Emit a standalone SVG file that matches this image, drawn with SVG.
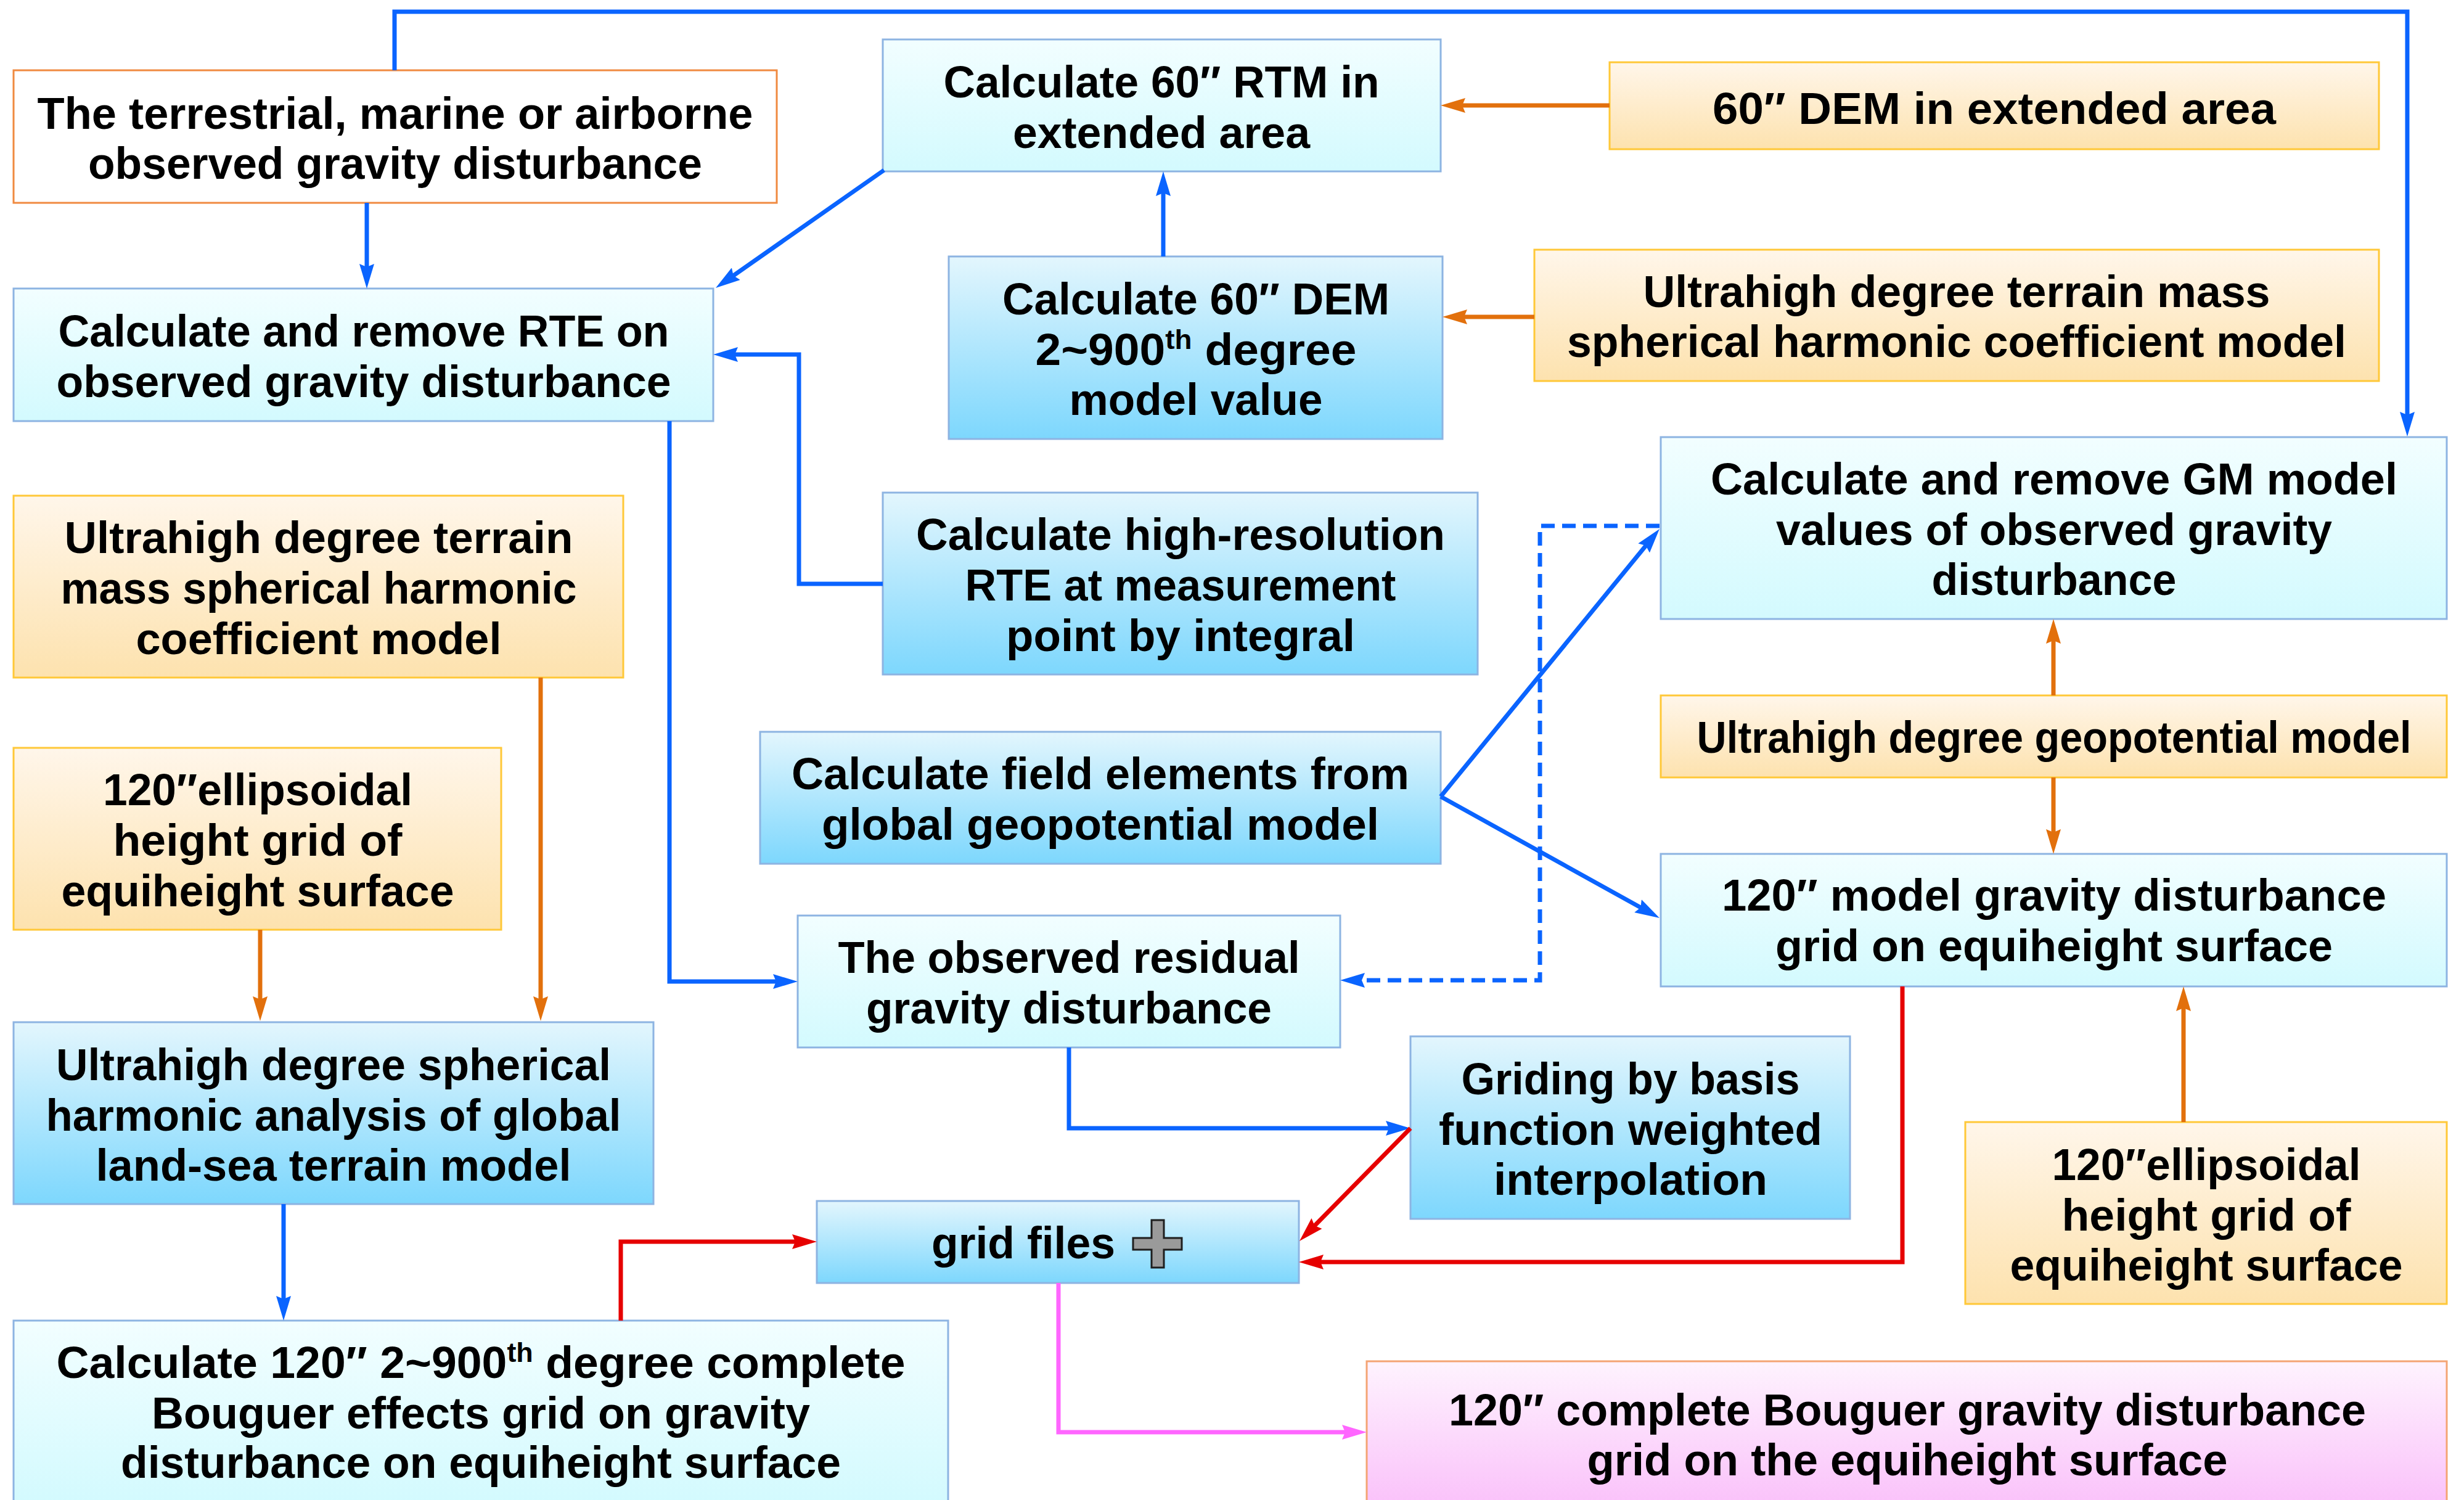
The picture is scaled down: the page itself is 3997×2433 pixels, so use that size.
<svg xmlns="http://www.w3.org/2000/svg" width="3997" height="2433" viewBox="0 0 3997 2433">
  <defs>
    <linearGradient id="gCyan" x1="0" y1="0" x2="0" y2="1">
      <stop offset="0" stop-color="#F2FEFF"/>
      <stop offset="1" stop-color="#D3FAFE"/>
    </linearGradient>
    <linearGradient id="gBlue" x1="0" y1="0" x2="0" y2="1">
      <stop offset="0" stop-color="#E3F6FD"/>
      <stop offset="1" stop-color="#7DD7FD"/>
    </linearGradient>
    <linearGradient id="gOrange" x1="0" y1="0" x2="0" y2="1">
      <stop offset="0" stop-color="#FFF6EA"/>
      <stop offset="1" stop-color="#FDE2AE"/>
    </linearGradient>
    <linearGradient id="gPink" x1="0" y1="0" x2="0" y2="1">
      <stop offset="0" stop-color="#FEF3FE"/>
      <stop offset="1" stop-color="#FAC1FA"/>
    </linearGradient>
    <marker id="aBlue" viewBox="0 -12 40 24" markerWidth="40" markerHeight="24" refX="20" refY="0" orient="auto" markerUnits="userSpaceOnUse">
      <path d="M0,-12 L40,0 L0,12 L5,0 z" fill="#0A64FF"/>
    </marker>
    <marker id="aOrange" viewBox="0 -12 40 24" markerWidth="40" markerHeight="24" refX="20" refY="0" orient="auto" markerUnits="userSpaceOnUse">
      <path d="M0,-12 L40,0 L0,12 L5,0 z" fill="#E2700C"/>
    </marker>
    <marker id="aRed" viewBox="0 -12 40 24" markerWidth="40" markerHeight="24" refX="20" refY="0" orient="auto" markerUnits="userSpaceOnUse">
      <path d="M0,-12 L40,0 L0,12 L5,0 z" fill="#E60000"/>
    </marker>
    <marker id="aPink" viewBox="0 -12 40 24" markerWidth="40" markerHeight="24" refX="20" refY="0" orient="auto" markerUnits="userSpaceOnUse">
      <path d="M0,-12 L40,0 L0,12 L5,0 z" fill="#FF66FF"/>
    </marker>
  </defs>
  <style>
    .t { font-family: "Liberation Sans", Arial, sans-serif; font-weight: 700; font-size: 72px; fill: #000; text-anchor: middle; }
    .s { text-anchor: start; }
    .sup { font-size: 44px; }
    .cy { fill: url(#gCyan); stroke: #8DB4E2; stroke-width: 3; }
    .bl { fill: url(#gBlue); stroke: #8DB4E2; stroke-width: 3; }
    .or { fill: url(#gOrange); stroke: #FFC838; stroke-width: 3; }
    .wh { fill: #FFFFFF; stroke: #F08A40; stroke-width: 3; }
    .pk { fill: url(#gPink); stroke: #F4A474; stroke-width: 3; }
    .cb { fill: none; stroke: #0A64FF; stroke-width: 7; marker-end: url(#aBlue); }
    .cd { fill: none; stroke: #0A64FF; stroke-width: 7; stroke-dasharray: 22 12; marker-end: url(#aBlue); }
    .co { fill: none; stroke: #E2700C; stroke-width: 7; marker-end: url(#aOrange); }
    .cr { fill: none; stroke: #E60000; stroke-width: 7; marker-end: url(#aRed); }
    .cp { fill: none; stroke: #FF66FF; stroke-width: 7; marker-end: url(#aPink); }
  </style>

  <rect width="3997" height="2433" fill="#FFFFFF"/>

  <!-- nodes -->
  <g id="observed-gravity">
    <rect class="wh" x="22" y="114" width="1238" height="215"/>
    <text class="t" x="641" y="209" textLength="1161" lengthAdjust="spacingAndGlyphs">The terrestrial, marine or airborne</text>
    <text class="t" x="641" y="290" textLength="996" lengthAdjust="spacingAndGlyphs">observed gravity disturbance</text>
  </g>

  <g id="remove-rte">
    <rect class="cy" x="22" y="468" width="1135" height="215"/>
    <text class="t" x="590" y="562" textLength="991" lengthAdjust="spacingAndGlyphs">Calculate and remove RTE on</text>
    <text class="t" x="590" y="644" textLength="997" lengthAdjust="spacingAndGlyphs">observed gravity disturbance</text>
  </g>

  <g id="rtm-extended">
    <rect class="cy" x="1432" y="64" width="905" height="214"/>
    <text class="t" x="1884" y="158" textLength="707" lengthAdjust="spacingAndGlyphs">Calculate 60″ RTM in</text>
    <text class="t" x="1884" y="240" textLength="482" lengthAdjust="spacingAndGlyphs">extended area</text>
  </g>

  <g id="dem-extended">
    <rect class="or" x="2611" y="101" width="1248" height="141"/>
    <text class="t" x="3235" y="201" textLength="914" lengthAdjust="spacingAndGlyphs">60″ DEM in extended area</text>
  </g>

  <g id="dem-model-value">
    <rect class="bl" x="1539" y="416" width="801" height="296"/>
    <text class="t" x="1940" y="510" textLength="628" lengthAdjust="spacingAndGlyphs">Calculate 60″ DEM</text>
    <text class="t" x="1940" y="592" textLength="521" lengthAdjust="spacingAndGlyphs">2~900<tspan class="sup" dy="-26">th</tspan><tspan dy="26"> degree</tspan></text>
    <text class="t" x="1940" y="673" textLength="411" lengthAdjust="spacingAndGlyphs">model value</text>
  </g>

  <g id="terrain-coeff-top">
    <rect class="or" x="2489" y="405" width="1370" height="213"/>
    <text class="t" x="3174" y="498" textLength="1017" lengthAdjust="spacingAndGlyphs">Ultrahigh degree terrain mass</text>
    <text class="t" x="3174" y="579" textLength="1264" lengthAdjust="spacingAndGlyphs">spherical harmonic coefficient model</text>
  </g>

  <g id="remove-gm">
    <rect class="cy" x="2694" y="709" width="1275" height="295"/>
    <text class="t" x="3332" y="802" textLength="1114" lengthAdjust="spacingAndGlyphs">Calculate and remove GM model</text>
    <text class="t" x="3332" y="884" textLength="902" lengthAdjust="spacingAndGlyphs">values of observed gravity</text>
    <text class="t" x="3332" y="965" textLength="397" lengthAdjust="spacingAndGlyphs">disturbance</text>
  </g>

  <g id="high-res-rte">
    <rect class="bl" x="1432" y="799" width="965" height="295"/>
    <text class="t" x="1915" y="892" textLength="858" lengthAdjust="spacingAndGlyphs">Calculate high-resolution</text>
    <text class="t" x="1915" y="974" textLength="699" lengthAdjust="spacingAndGlyphs">RTE at measurement</text>
    <text class="t" x="1915" y="1056" textLength="566" lengthAdjust="spacingAndGlyphs">point by integral</text>
  </g>

  <g id="terrain-coeff-left">
    <rect class="or" x="22" y="804" width="989" height="295"/>
    <text class="t" x="517" y="897" textLength="825" lengthAdjust="spacingAndGlyphs">Ultrahigh degree terrain</text>
    <text class="t" x="517" y="979" textLength="837" lengthAdjust="spacingAndGlyphs">mass spherical harmonic</text>
    <text class="t" x="517" y="1061" textLength="593" lengthAdjust="spacingAndGlyphs">coefficient model</text>
  </g>

  <g id="field-elements">
    <rect class="bl" x="1233" y="1187" width="1104" height="214"/>
    <text class="t" x="1785" y="1280" textLength="1002" lengthAdjust="spacingAndGlyphs">Calculate field elements from</text>
    <text class="t" x="1785" y="1362" textLength="904" lengthAdjust="spacingAndGlyphs">global geopotential model</text>
  </g>

  <g id="geopotential-model">
    <rect class="or" x="2694" y="1128" width="1275" height="133"/>
    <text class="t" x="3332" y="1221" textLength="1159" lengthAdjust="spacingAndGlyphs">Ultrahigh degree geopotential model</text>
  </g>

  <g id="ellipsoidal-left">
    <rect class="or" x="22" y="1213" width="791" height="295"/>
    <text class="t" x="418" y="1306" textLength="502" lengthAdjust="spacingAndGlyphs">120″ellipsoidal</text>
    <text class="t" x="418" y="1388" textLength="469" lengthAdjust="spacingAndGlyphs">height grid of</text>
    <text class="t" x="418" y="1470" textLength="637" lengthAdjust="spacingAndGlyphs">equiheight surface</text>
  </g>

  <g id="model-gravity-grid">
    <rect class="cy" x="2694" y="1385" width="1275" height="215"/>
    <text class="t" x="3332" y="1477" textLength="1078" lengthAdjust="spacingAndGlyphs">120″ model gravity disturbance</text>
    <text class="t" x="3332" y="1559" textLength="904" lengthAdjust="spacingAndGlyphs">grid on equiheight surface</text>
  </g>

  <g id="residual-gravity">
    <rect class="cy" x="1294" y="1485" width="880" height="214"/>
    <text class="t" x="1734" y="1578" textLength="749" lengthAdjust="spacingAndGlyphs">The observed residual</text>
    <text class="t" x="1734" y="1660" textLength="658" lengthAdjust="spacingAndGlyphs">gravity disturbance</text>
  </g>

  <g id="sh-analysis">
    <rect class="bl" x="22" y="1658" width="1038" height="295"/>
    <text class="t" x="541" y="1752" textLength="900" lengthAdjust="spacingAndGlyphs">Ultrahigh degree spherical</text>
    <text class="t" x="541" y="1834" textLength="933" lengthAdjust="spacingAndGlyphs">harmonic analysis of global</text>
    <text class="t" x="541" y="1915" textLength="771" lengthAdjust="spacingAndGlyphs">land-sea terrain model</text>
  </g>

  <g id="griding">
    <rect class="bl" x="2288" y="1681" width="713" height="296"/>
    <text class="t" x="2645" y="1775" textLength="549" lengthAdjust="spacingAndGlyphs">Griding by basis</text>
    <text class="t" x="2645" y="1857" textLength="622" lengthAdjust="spacingAndGlyphs">function weighted</text>
    <text class="t" x="2645" y="1938" textLength="444" lengthAdjust="spacingAndGlyphs">interpolation</text>
  </g>

  <g id="ellipsoidal-right">
    <rect class="or" x="3188" y="1820" width="781" height="295"/>
    <text class="t" x="3579" y="1914" textLength="501" lengthAdjust="spacingAndGlyphs">120″ellipsoidal</text>
    <text class="t" x="3579" y="1996" textLength="469" lengthAdjust="spacingAndGlyphs">height grid of</text>
    <text class="t" x="3579" y="2077" textLength="637" lengthAdjust="spacingAndGlyphs">equiheight surface</text>
  </g>

  <g id="grid-files">
    <rect class="bl" x="1325" y="1948" width="782" height="133"/>
    <text class="t s" x="1511" y="2041" textLength="298" lengthAdjust="spacingAndGlyphs">grid files</text>
    <path d="M1868,1979 H1888 V2008 H1917 V2027 H1888 V2056 H1868 V2027 H1838 V2008 H1868 Z" fill="#9A9A9A" stroke="#1E1E1E" stroke-width="3"/>
  </g>

  <g id="bouguer-effects">
    <rect class="cy" x="22" y="2142" width="1516" height="296"/>
    <text class="t" x="780" y="2235" textLength="1377" lengthAdjust="spacingAndGlyphs">Calculate 120″ 2~900<tspan class="sup" dy="-26">th</tspan><tspan dy="26"> degree complete</tspan></text>
    <text class="t" x="780" y="2317" textLength="1068" lengthAdjust="spacingAndGlyphs">Bouguer effects grid on gravity</text>
    <text class="t" x="780" y="2397" textLength="1168" lengthAdjust="spacingAndGlyphs">disturbance on equiheight surface</text>
  </g>

  <g id="bouguer-result">
    <rect class="pk" x="2217" y="2208" width="1752" height="236"/>
    <text class="t" x="3094" y="2312" textLength="1488" lengthAdjust="spacingAndGlyphs">120″ complete Bouguer gravity disturbance</text>
    <text class="t" x="3094" y="2393" textLength="1039" lengthAdjust="spacingAndGlyphs">grid on the equiheight surface</text>
  </g>

  <!-- connectors -->
  <g id="connectors">
    <path class="cb" d="M640,114 V19 H3905 V688"/>
    <path class="cb" d="M595,329 V448"/>
    <path class="cb" d="M1434,276 L1177.4,455.6"/>
    <path class="cb" d="M1887,416 V298"/>
    <path class="co" d="M2611,171 H2357"/>
    <path class="co" d="M2489,514 H2360"/>
    <path class="cb" d="M1432,947 H1296 V575 H1177"/>
    <path class="cb" d="M1086,683 V1592 H1274"/>
    <path class="cb" d="M2337,1292 L2679.3,873.5"/>
    <path class="cb" d="M2337,1292 L2674.5,1479.3"/>
    <path class="cd" d="M2692,853 H2498 V1590 H2194"/>
    <path class="co" d="M3331,1128 V1024"/>
    <path class="co" d="M3331,1261 V1365"/>
    <path class="co" d="M3542,1820 V1620"/>
    <path class="cr" d="M3086,1600 V2047 H2127"/>
    <path class="cb" d="M1734,1699 V1830 H2268"/>
    <path class="cr" d="M2288,1830 L2122,1998.7"/>
    <path class="co" d="M877,1099 V1636"/>
    <path class="co" d="M422,1508 V1636"/>
    <path class="cb" d="M460,1953 V2122"/>
    <path class="cr" d="M1007,2142 V2014 H1305"/>
    <path class="cp" d="M1717,2081 V2323 H2197"/>
  </g>
</svg>
